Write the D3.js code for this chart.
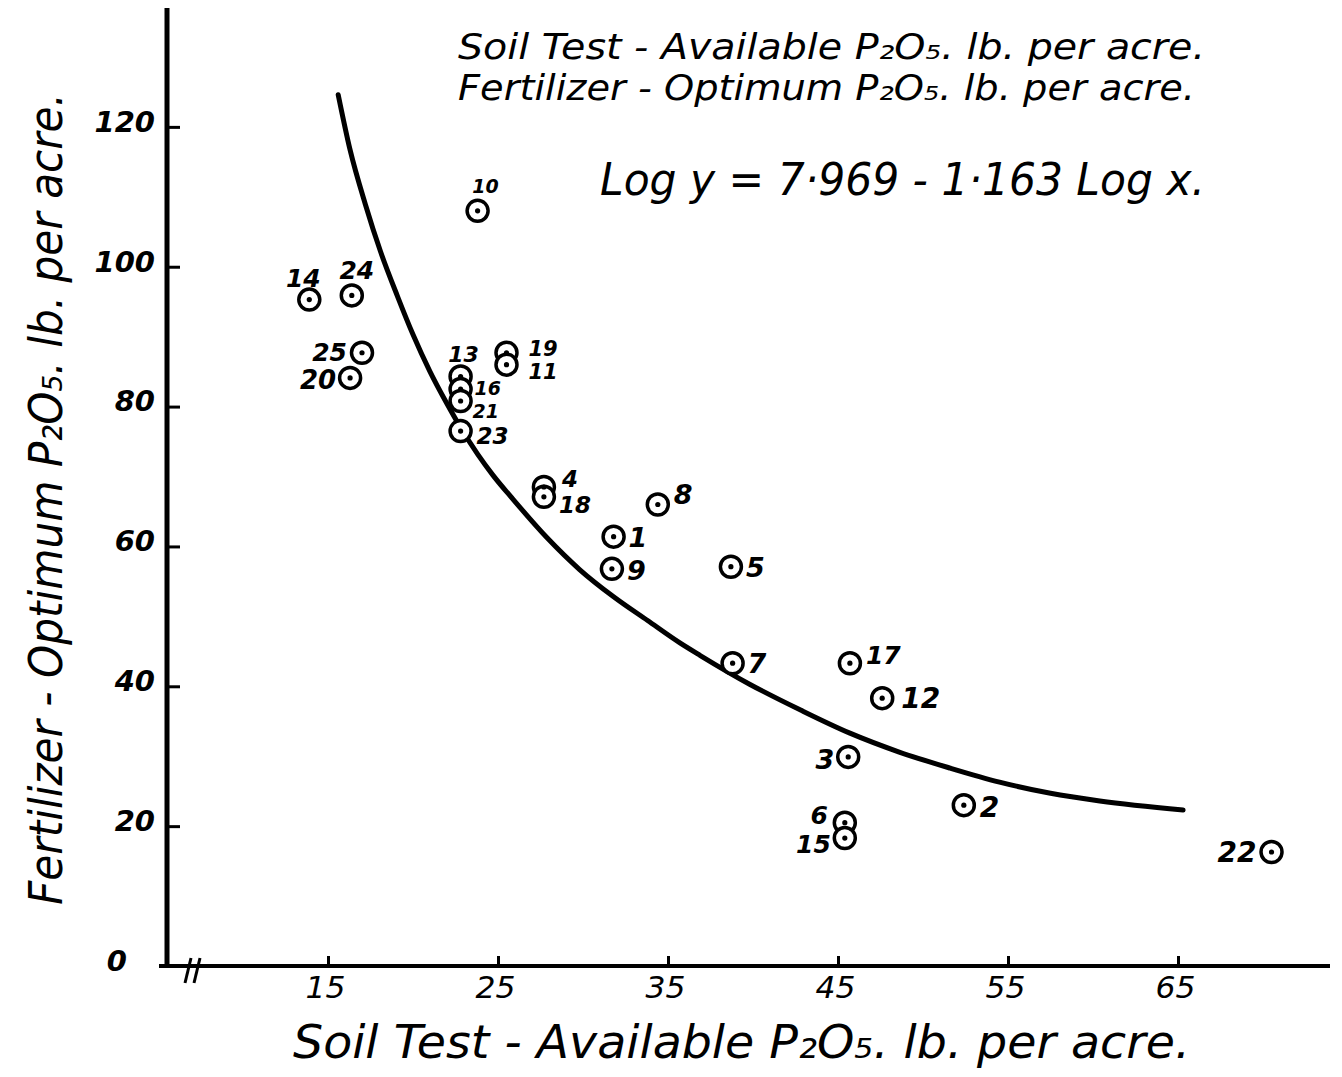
<!DOCTYPE html>
<html>
<head>
<meta charset="utf-8">
<script src="https://cdn.jsdelivr.net/npm/d3@7"></script>
<style>
body { margin: 0; background: #fff; }
text { fill: #000; }
</style>
</head>
<body>
<svg id="chart" width="1342" height="1077"></svg>
<script>
// plot numbers and their values
var plotIds  = [14, 24, 25, 20, 10, 13, 16, 21, 19, 11, 23, 4, 18, 8, 1, 9, 5, 7, 17, 12, 3, 2, 6, 15, 22];
var soilTest = [13.9, 16.4, 17.0, 16.3, 23.8, 22.8, 22.8, 22.8, 25.5, 25.5, 22.8, 27.7, 27.7, 34.4, 31.8, 31.7, 38.7, 38.8, 45.7, 47.6, 45.6, 52.4, 45.4, 45.4, 70.5];
var optimum  = [95.3, 95.9, 87.7, 84.1, 108.0, 84.3, 82.5, 80.8, 87.7, 86.0, 76.5, 68.5, 67.1, 66.0, 61.4, 56.8, 57.1, 43.3, 43.3, 38.3, 29.9, 23.0, 20.5, 18.3, 16.3];

// the fitted curve as drawn on the sheet
var curveX = [15.6, 16.3, 17.2, 18.1, 19.1, 20.0, 21.0, 22.0, 22.8, 23.8, 24.7, 25.9, 27.9, 29.8, 31.8, 33.8, 35.7, 36.9, 39.8, 42.8, 45.7, 48.6, 51.6, 54.5, 57.5, 60.4, 65.3];
var curveY = [124.6, 116.7, 108.9, 102.1, 95.7, 90.3, 85.0, 80.4, 77.0, 73.2, 70.2, 66.7, 61.2, 56.7, 52.8, 49.4, 46.2, 44.4, 40.3, 36.6, 33.3, 30.6, 28.3, 26.3, 24.7, 23.6, 22.3];

var xTicks = [15, 25, 35, 45, 55, 65];
var yTicks = [0, 20, 40, 60, 80, 100, 120];

var titleLines = ["Soil Test -  Available  P\u2082O\u2085. lb. per acre.",
                  "Fertilizer - Optimum  P\u2082O\u2085. lb. per acre."];
var equation = "Log y = 7\u00b7969 - 1\u00b7163  Log x.";
var xTitle = "Soil Test -  Available  P\u2082O\u2085. lb. per acre.";
var yTitle = "Fertilizer - Optimum  P\u2082O\u2085. lb. per acre.";

// where each number sits next to its ring
var labelAt = {
    14: {dx: -6, dy: -13, a: "middle"},
    24: {dx: 5, dy: -16, a: "middle"},
    25: {dx: -15, dy: 8, a: "end"},
    20: {dx: -14, dy: 11, a: "end", s: 26},
    10: {dx: 8, dy: -18, a: "middle", s: 19},
    13: {dx: 3, dy: -15, a: "middle", s: 22},
    16: {dx: 14, dy: 6, s: 19},
    21: {dx: 12, dy: 17, s: 19},
    19: {dx: 22, dy: 3, s: 21},
    11: {dx: 22, dy: 14, s: 21},
    23: {dx: 16, dy: 13, s: 23},
    4:  {dx: 18, dy: 0, s: 23},
    18: {dx: 15, dy: 16, s: 23},
    8:  {dx: 16, dy: 0, s: 27},
    1:  {dx: 15, dy: 10, s: 27},
    9:  {dx: 15, dy: 11, s: 27},
    5:  {dx: 15, dy: 10, s: 27},
    7:  {dx: 15, dy: 10, s: 27},
    17: {dx: 16, dy: 1, s: 25},
    12: {dx: 19, dy: 10, s: 28},
    3:  {dx: -14, dy: 12, a: "end", s: 27},
    2:  {dx: 16, dy: 12, s: 28},
    6:  {dx: -17, dy: 1, a: "end", s: 25},
    15: {dx: -14, dy: 15, a: "end", s: 25},
    22: {dx: -15, dy: 10, a: "end", s: 28}
};

var font = "'DejaVu Sans', sans-serif";
var svg = d3.select("#chart");

var x = d3.scaleLinear().domain([5.53, 73.94]).range([167, 1330]);
var y = d3.scaleLinear().domain([0, 137]).range([966, 8]);

// axes
var xAxis = svg.append("g")
    .attr("transform", "translate(0," + y(0) + ")")
    .call(d3.axisBottom(x).tickValues(xTicks).tickSize(-10).tickSizeOuter(0).tickPadding(11));
xAxis.select(".domain").attr("stroke", "#000").attr("stroke-width", 4)
    .attr("d", "M" + (x.range()[0] - 8) + ",0H" + x.range()[1]);
xAxis.selectAll(".tick line").attr("stroke-width", 3);
xAxis.selectAll(".tick text")
    .style("font", "italic 30px " + font)
    .attr("dx", -3)
    .attr("textLength", 40)
    .attr("lengthAdjust", "spacingAndGlyphs");

var yAxis = svg.append("g")
    .attr("transform", "translate(" + x.range()[0] + ",0)")
    .call(d3.axisLeft(y).tickValues(yTicks).tickSize(-13).tickSizeOuter(0).tickPadding(12));
yAxis.select(".domain").attr("stroke", "#000").attr("stroke-width", 5)
    .attr("d", "M0," + y.range()[1] + "V" + (y(0) + 2));
yAxis.selectAll(".tick line").attr("stroke-width", 3)
    .attr("display", function(d) { return d === 0 ? "none" : null; });
yAxis.selectAll(".tick text")
    .style("font", "italic bold 29px " + font)
    .attr("dy", "0.15em")
    .attr("x", function(d) { return d === 0 ? -40 : -12; });

// axis break mark
var bx = x.range()[0] + 18, by = y(0);
[0, 9].forEach(function(off) {
    svg.append("line")
        .attr("x1", bx + off).attr("y1", by + 17)
        .attr("x2", bx + off + 6).attr("y2", by - 8)
        .attr("stroke", "#000").attr("stroke-width", 3);
});

// curve
var line = d3.line()
    .x(function(d) { return x(d[0]); })
    .y(function(d) { return y(d[1]); })
    .curve(d3.curveMonotoneX);
svg.append("path")
    .datum(d3.zip(curveX, curveY))
    .attr("d", line)
    .attr("fill", "none")
    .attr("stroke", "#000")
    .attr("stroke-width", 5)
    .attr("stroke-linecap", "round");

// plots: ring then centre dot
var pts = d3.zip(plotIds, soilTest, optimum);
svg.append("g").selectAll("circle")
    .data(pts)
    .join("circle")
    .attr("cx", function(d) { return x(d[1]); })
    .attr("cy", function(d) { return y(d[2]); })
    .attr("r", 10.5)
    .attr("fill", "#fff")
    .attr("stroke", "#000")
    .attr("stroke-width", 3.5);
svg.append("g").selectAll("circle")
    .data(pts)
    .join("circle")
    .attr("cx", function(d) { return x(d[1]); })
    .attr("cy", function(d) { return y(d[2]); })
    .attr("r", 2.6)
    .attr("fill", "#000");

svg.append("g").selectAll("text")
    .data(pts)
    .join("text")
    .attr("x", function(d) { return x(d[1]) + labelAt[d[0]].dx; })
    .attr("y", function(d) { return y(d[2]) + labelAt[d[0]].dy; })
    .attr("text-anchor", function(d) { return labelAt[d[0]].a || "start"; })
    .style("font", function(d) { return "italic bold " + (labelAt[d[0]].s || 25) + "px " + font; })
    .text(function(d) { return d[0]; });

// heading block, then the equation
var heads = [
    {x: 458, y: 59, len: 747},
    {x: 458, y: 100, len: 737}
];
titleLines.forEach(function(t, i) {
    svg.append("text")
        .attr("x", heads[i].x).attr("y", heads[i].y)
        .attr("textLength", heads[i].len)
        .attr("lengthAdjust", "spacingAndGlyphs")
        .style("font", "italic 35px " + font)
        .text(t);
});
svg.append("text")
    .attr("x", 600).attr("y", 195)
    .attr("textLength", 605)
    .attr("lengthAdjust", "spacingAndGlyphs")
    .style("font", "italic 44px " + font)
    .text(equation);

// axis titles
svg.append("text")
    .attr("x", 293).attr("y", 1058)
    .attr("textLength", 897).attr("lengthAdjust", "spacingAndGlyphs")
    .style("font", "italic 46px " + font)
    .text(xTitle);

svg.append("text")
    .attr("transform", "translate(62,905) rotate(-90)")
    .attr("textLength", 812).attr("lengthAdjust", "spacingAndGlyphs")
    .style("font", "italic 46px " + font)
    .text(yTitle);
</script>
</body>
</html>
